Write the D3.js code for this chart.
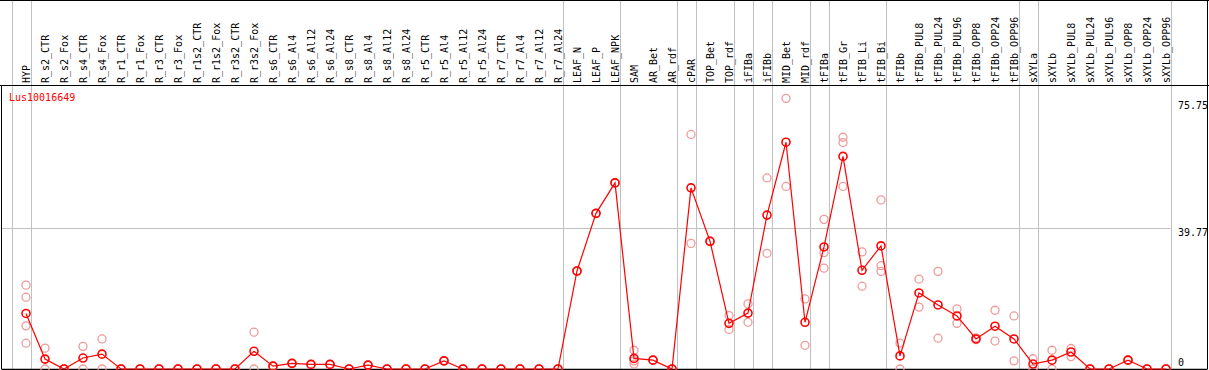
<!DOCTYPE html>
<html>
<head>
<meta charset="utf-8">
<script src="https://cdn.jsdelivr.net/npm/d3@7"></script>
<style>
  html, body { margin: 0; padding: 0; background: #fff; }
  svg { display: block; }
  text { font-family: "DejaVu Sans Mono", "Liberation Mono", monospace; font-size: 10px; }
</style>
</head>
<body>
<svg id="chart" width="1209" height="370"></svg>
<script>
const geneName = "Lus10016649";

const categories = ["HYP","R_s2_CTR","R_s2_Fox","R_s4_CTR","R_s4_Fox","R_r1_CTR","R_r1_Fox","R_r3_CTR","R_r3_Fox",
  "R_r1s2_CTR","R_r1s2_Fox","R_r3s2_CTR","R_r3s2_Fox","R_s6_CTR","R_s6_Al4","R_s6_Al12","R_s6_Al24",
  "R_s8_CTR","R_s8_Al4","R_s8_Al12","R_s8_Al24","R_r5_CTR","R_r5_Al4","R_r5_Al12","R_r5_Al24",
  "R_r7_CTR","R_r7_Al4","R_r7_Al12","R_r7_Al24","LEAF_N","LEAF_P","LEAF_NPK","SAM","AR_Bet","AR_rdf",
  "cPAR","TOP_Bet","TOP_rdf","iFIBa","iFIBb","MID_Bet","MID_rdf","tFIBa","tFIB_Gr","tFIB_Li","tFIB_Bi",
  "tFIBb","tFIBb_PUL8","tFIBb_PUL24","tFIBb_PUL96","tFIBb_OPP8","tFIBb_OPP24","tFIBb_OPP96",
  "sXYLa","sXYLb","sXYLb_PUL8","sXYLb_PUL24","sXYLb_PUL96","sXYLb_OPP8","sXYLb_OPP24","sXYLb_OPP96"];

const meanValues = [15.7,2.8,0,3.1,4.2,0,0,0,0,
  0,0,0,5.0,0.8,1.6,1.3,1.3,
  0,1.1,0,0,0,2.3,0,0,
  0,0,0,0,27.7,44.0,52.6,3.0,2.5,0,
  51.2,36.1,12.9,15.8,43.5,64.1,13.2,34.5,60.1,27.9,34.8,
  3.7,21.5,18.1,15.0,8.5,12.1,8.5,
  1.4,2.5,4.8,0,0,2.5,0,0];

const replicateValues = [[23.7,20.3,12.2,7.3],[5.9,0],[0,0],[6.4,0],[8.5,0],[0,0],[0,0],[0,0],[0,0],
  [0,0],[0,0],[0,0],[10.4,0],[0.8,0.8],[1.6,1.6],[1.3,1.3],[1.3,1.3],
  [0,0],[1.1,1.1],[0,0],[0,0],[0,0],[2.3,2.3],[0,0],[0,0],
  [0,0],[0,0],[0,0],[0,0],[27.7,27.7],[44.0,44.0],[52.6,52.6],[5.3,2.3,1.4],[2.5,2.5],[0,0],
  [66.3,35.5],[36.2,36.0],[15.1,11.2],[18.4,13.2],[54.0,32.7],[76.5,51.6],[19.8,6.7],[42.3,32.9,28.5],[65.5,64.0,51.6],[33.1,23.4],[47.8,29.2,27.6],
  [7.3,0],[25.4,17.5],[27.6,8.7],[17.0,12.9],[8.8,8.3],[16.6,7.9],[15.0,2.3],
  [2.9,0],[5.3,0],[5.8,3.5],[0,0],[0,0],[2.6,2.4],[0,0],[0,0]];

const groupEnds = ["HYP","R_r7_Al24","LEAF_NPK","AR_rdf","cPAR","TOP_rdf","iFIBa","iFIBb","MID_rdf","tFIBa","tFIB_Bi","tFIBb_OPP96","sXYLa","sXYLb_OPP96"];

const tickValues = [0, 39.77, 75.75];

const svg = d3.select("#chart");
const W = 1209;
const headerBottom = 85.5, plotBottom = 369, plotLeft = 1.5, plotRight = 1207.5, gridRight = 1170;

const x = d3.scalePoint().domain(categories).range([26, 1166]);
const step = x.step();
const y = d3.scaleLinear().domain([0, 39.77]).range([plotBottom, 228.3]);

// group separators
const sepX = [x(categories[0]) - step + 4.5].concat(groupEnds.map(c => x(c) + 4.5));
svg.append("g").selectAll("line").data(sepX).join("line")
  .attr("x1", d => Math.round(d) + 0.5).attr("x2", d => Math.round(d) + 0.5)
  .attr("y1", 0).attr("y2", plotBottom)
  .attr("stroke", "#c0c0c0").attr("stroke-width", 1);

// horizontal grid at mid tick
svg.append("line")
  .attr("x1", plotLeft).attr("x2", gridRight + 0.5)
  .attr("y1", Math.round(y(39.77)) + 0.5).attr("y2", Math.round(y(39.77)) + 0.5)
  .attr("stroke", "#c0c0c0").attr("stroke-width", 1);

// frame lines
svg.append("line").attr("x1", 0).attr("x2", W).attr("y1", 0.5).attr("y2", 0.5).attr("stroke", "#000");
svg.append("line").attr("x1", 0).attr("x2", W).attr("y1", headerBottom).attr("y2", headerBottom).attr("stroke", "#000");
svg.append("line").attr("x1", plotLeft).attr("x2", plotLeft).attr("y1", headerBottom).attr("y2", plotBottom).attr("stroke", "#000");
svg.append("line").attr("x1", plotRight).attr("x2", plotRight).attr("y1", 0).attr("y2", plotBottom).attr("stroke", "#000");
svg.append("line").attr("x1", plotLeft).attr("x2", plotRight).attr("y1", plotBottom + 0.5).attr("y2", plotBottom + 0.5).attr("stroke", "#000").attr("stroke-width", 1.5);

// header labels
svg.append("g").selectAll("text").data(categories).join("text")
  .attr("transform", d => `translate(${x(d) + 3.5},83) rotate(-90)`)
  .attr("text-anchor", "start")
  .attr("fill", "#000")
  .text(d => d);

// axis tick labels (right side)
svg.append("g").selectAll("text").data(tickValues).join("text")
  .attr("x", 1178)
  .attr("y", d => d === 0 ? y(d) - 3 : y(d) + 8)
  .attr("fill", "#000")
  .text(d => d === 0 ? "0" : d3.format(".2f")(d));

// gene name
svg.append("text").attr("x", 9).attr("y", 101).attr("fill", "#ff0000").text(geneName);

// replicate points
const reps = [];
categories.forEach((c, i) => replicateValues[i].forEach(v => reps.push({c, v})));
svg.append("g").selectAll("circle").data(reps).join("circle")
  .attr("cx", d => x(d.c)).attr("cy", d => y(d.v)).attr("r", 4)
  .attr("fill", "none").attr("stroke", "#ef9a9a").attr("stroke-width", 1.3);

// mean line
const pts = categories.map((c, i) => ({c, v: meanValues[i]}));
svg.append("path").datum(pts)
  .attr("d", d3.line().x(d => x(d.c)).y(d => y(d.v)))
  .attr("fill", "none").attr("stroke", "#ff0000").attr("stroke-width", 1.2);

svg.append("g").selectAll("circle").data(pts).join("circle")
  .attr("cx", d => x(d.c)).attr("cy", d => y(d.v)).attr("r", 4)
  .attr("fill", "none").attr("stroke", "#ff0000").attr("stroke-width", 1.6);
</script>
</body>
</html>
